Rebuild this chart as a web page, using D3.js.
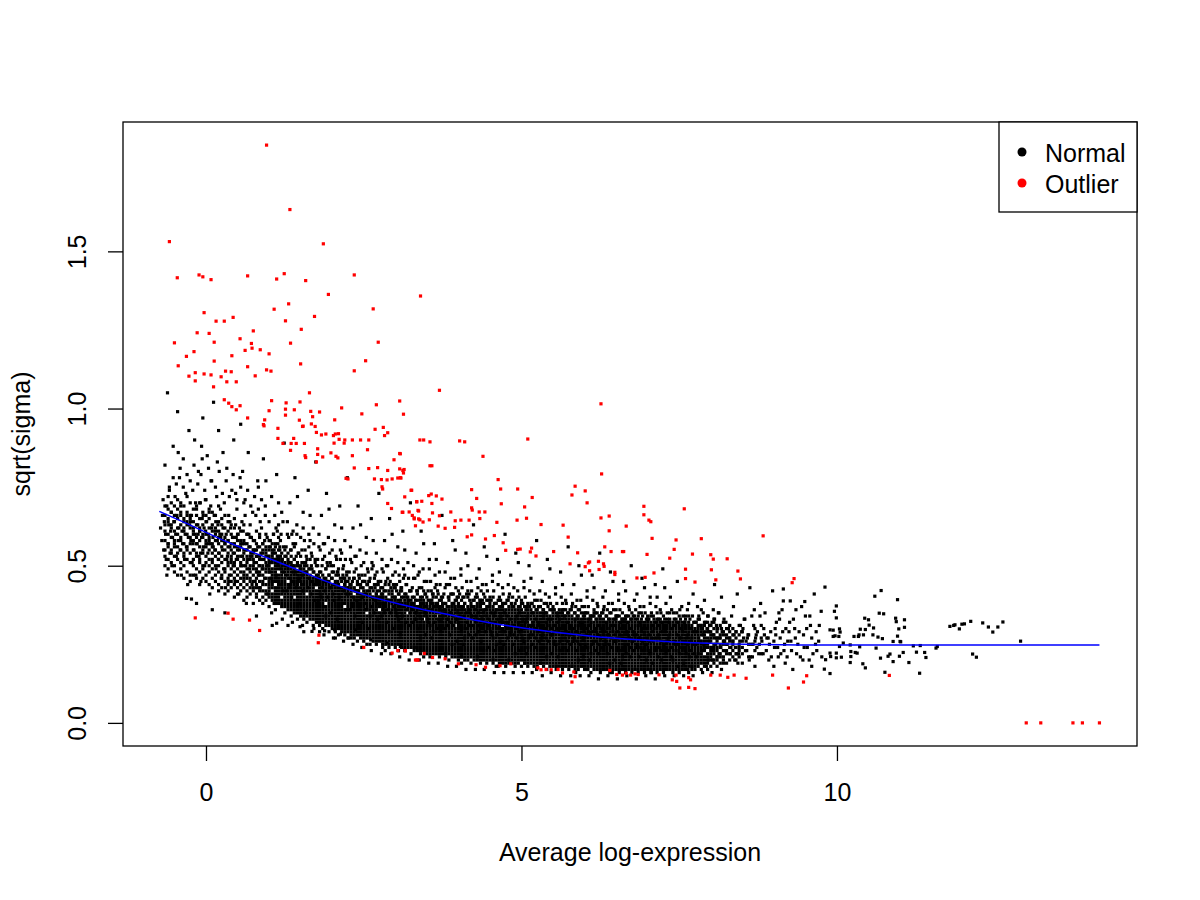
<!DOCTYPE html>
<html>
<head>
<meta charset="utf-8">
<script src="https://cdn.jsdelivr.net/npm/d3@7"></script>
<style>
  body { margin: 0; background: #fff; }
  text { font-family: "Liberation Sans", Arial, sans-serif; }
</style>
</head>
<body>
<div id="plot"></div>
<script>

// Variance trend plot (sqrt(sigma) vs average log-expression)

const width = 1200;
const height = 900;
const margin = {left: 123, right: 63, top: 122, bottom: 154};

// tick values and labels
const xTicks = [0, 5, 10];
const yTicks = [0, 0.5, 1, 1.5];
const yTickLabels = ["0.0", "0.5", "1.0", "1.5"];

// legend entries
const legendLabels = ["Normal", "Outlier"];
const legendColors = ["#000000", "#ff0000"];

// fitted trend
const trendLine = [
  [-0.74,.673],[-0.3,.634],[0.25,.583],[0.65,.55],[1.05,.519],[1.45,.487],[1.84,.455],
  [2.25,.425],[2.63,.40],[3.06,.378],[3.45,.36],[3.86,.344],[4.25,.327],[4.65,.313],
  [5.05,.301],[5.44,.291],[5.85,.281],[6.24,.273],[6.65,.267],[7.03,.262],[7.43,.257],
  [7.83,.254],[8.3,.251],[8.8,.249],[9.41,.248],[10.5,.248],[12,.248],[14.16,.248]
];

// normal genes in the crowded middle of the cloud: [AveExpr, sqrt(sigma) values...]
const coreCols = [
  [-.65,.5,.53,.55,.58,.61,.63,.66,.69],
  [-.6,.49,.52,.56,.57,.6,.64,.65,.68,.72],
  [-.55,.51,.54,.55,.59,.62,.63,.67,.7],
  [-.5,.48,.5,.53,.57,.58,.61,.64,.66,.69],
  [-.45,.47,.52,.54,.56,.6,.62,.65,.68,.71],
  [-.4,.49,.51,.55,.58,.59,.63,.66,.67,.7],
  [-.35,.46,.5,.53,.54,.57,.61,.62,.65,.69],
  [-.3,.48,.52,.55,.56,.6,.63,.64,.67,.72],
  [-.25,.45,.47,.51,.54,.57,.59,.62,.65,.66,.7],
  [-.2,.47,.5,.52,.55,.58,.6,.61,.64,.68],
  [-.15,.46,.49,.53,.54,.57,.59,.63,.66,.69],
  [-.1,.44,.48,.51,.52,.56,.58,.61,.62,.65,.7],
  [-.05,.46,.49,.5,.54,.55,.59,.6,.63,.67],
  [0,.45,.47,.51,.53,.56,.57,.6,.64,.66,.71],
  [.05,.44,.48,.5,.52,.55,.58,.59,.62,.65,.68],
  [.1,.43,.46,.49,.51,.54,.56,.57,.61,.63,.67],
  [.15,.45,.47,.5,.53,.55,.58,.6,.62,.66],
  [.2,.42,.44,.48,.5,.52,.54,.57,.59,.61,.64,.69],
  [.25,.43,.46,.47,.51,.53,.56,.58,.6,.63,.65],
  [.3,.41,.45,.48,.49,.52,.55,.57,.59,.62,.66],
  [.35,.42,.44,.46,.5,.51,.54,.56,.58,.61,.64],
  [.4,.43,.45,.47,.49,.52,.53,.55,.57,.6,.63],
  [.45,.4,.44,.46,.48,.5,.51,.54,.56,.59,.62,.65],
  [.5,.41,.43,.45,.47,.49,.52,.53,.55,.58,.6],
  [.55,.42,.44,.46,.48,.5,.51,.53,.56,.57,.61],
  [.6,.39,.43,.45,.46,.48,.5,.52,.54,.55,.58,.63],
  [.65,.4,.42,.44,.46,.47,.49,.51,.53,.55,.57,.6],
  [.7,.41,.43,.45,.46,.48,.5,.52,.53,.56,.59],
  [.75,.38,.42,.43,.45,.47,.49,.5,.52,.54,.55,.58],
  [.8,.4,.41,.43,.44,.46,.48,.49,.51,.53,.55,.57,.61],
  [.85,.39,.42,.43,.45,.47,.48,.5,.52,.53,.56,.59],
  [.9,.38,.4,.42,.44,.45,.47,.49,.5,.52,.54,.55,.57],
  [.95,.39,.41,.42,.44,.46,.48,.49,.51,.53,.54,.56,.6],
  [1,.37,.4,.41,.42,.43,.44,.45,.46,.48,.49,.5,.51,.52,.53,.55,.56,.58],
  [1.05,.39,.4,.41,.43,.44,.45,.46,.47,.48,.49,.51,.52,.53,.54,.55,.57],
  [1.1,.36,.38,.39,.4,.41,.42,.43,.45,.46,.47,.48,.49,.5,.51,.52,.54,.56],
  [1.15,.38,.39,.4,.41,.42,.43,.44,.45,.46,.47,.49,.5,.51,.52,.53,.55,.59],
  [1.2,.37,.38,.39,.41,.42,.43,.44,.45,.46,.47,.48,.49,.5,.51,.52,.54],
  [1.25,.35,.37,.38,.39,.4,.41,.42,.43,.44,.45,.46,.48,.49,.5,.51,.53,.55],
  [1.3,.36,.37,.38,.39,.4,.41,.42,.43,.44,.46,.47,.48,.49,.5,.51,.52,.54],
  [1.35,.34,.36,.37,.38,.39,.4,.41,.42,.43,.44,.45,.46,.47,.48,.49,.5,.51,.53],
  [1.4,.35,.36,.37,.38,.39,.41,.42,.43,.44,.45,.46,.47,.48,.49,.5,.52,.56],
  [1.45,.33,.35,.36,.37,.38,.39,.4,.41,.42,.43,.44,.45,.46,.47,.48,.5,.51],
  [1.5,.34,.35,.36,.37,.38,.39,.4,.41,.42,.43,.45,.46,.47,.48,.49,.5,.53],
  [1.55,.33,.34,.35,.36,.37,.38,.39,.4,.41,.42,.43,.44,.45,.46,.47,.48,.49,.51],
  [1.6,.32,.34,.35,.36,.37,.38,.39,.4,.42,.43,.44,.45,.46,.47,.48,.5],
  [1.65,.33,.34,.35,.36,.37,.38,.39,.4,.41,.42,.43,.44,.45,.46,.47,.49,.52],
  [1.7,.31,.33,.34,.35,.36,.37,.38,.39,.4,.41,.42,.43,.44,.45,.46,.48],
  [1.75,.32,.33,.34,.35,.36,.37,.38,.39,.4,.41,.42,.44,.45,.46,.47,.5],
  [1.8,.31,.32,.33,.34,.35,.36,.37,.38,.39,.4,.41,.42,.43,.44,.45,.46,.48],
  [1.85,.3,.32,.33,.34,.35,.36,.37,.38,.39,.4,.41,.42,.43,.44,.45,.47],
  [1.9,.31,.32,.33,.34,.35,.36,.37,.39,.4,.41,.42,.43,.44,.45,.46,.49],
  [1.95,.29,.31,.32,.33,.34,.35,.36,.37,.38,.39,.4,.41,.42,.43,.44,.45,.47],
  [2,.3,.31,.32,.33,.34,.35,.36,.37,.38,.39,.4,.41,.42,.43,.44,.46,.48],
  [2.05,.29,.3,.31,.32,.33,.34,.35,.36,.37,.38,.4,.41,.42,.43,.44,.45],
  [2.1,.28,.3,.31,.32,.33,.34,.35,.36,.37,.38,.39,.4,.41,.42,.43,.44,.47],
  [2.15,.29,.3,.31,.32,.33,.34,.35,.36,.37,.38,.39,.4,.41,.42,.43,.45],
  [2.2,.28,.29,.3,.31,.32,.33,.34,.35,.36,.38,.39,.4,.41,.42,.43,.44,.46],
  [2.25,.27,.29,.3,.31,.32,.33,.34,.35,.36,.37,.38,.39,.4,.41,.42,.43,.45],
  [2.3,.28,.29,.3,.31,.32,.33,.34,.35,.36,.37,.38,.39,.4,.41,.42,.44],
  [2.35,.27,.28,.29,.3,.31,.32,.33,.34,.35,.36,.37,.38,.39,.4,.42,.43,.46],
  [2.4,.26,.28,.29,.3,.31,.32,.33,.34,.35,.36,.37,.38,.39,.4,.41,.42,.44],
  [2.45,.27,.28,.29,.3,.31,.32,.33,.34,.35,.36,.37,.38,.39,.4,.41,.43],
  [2.5,.26,.27,.28,.29,.3,.31,.32,.33,.34,.35,.36,.37,.38,.39,.4,.41,.42,.45],
  [2.55,.27,.28,.29,.3,.31,.32,.33,.34,.36,.37,.38,.39,.4,.41,.42,.44],
  [2.6,.25,.27,.28,.29,.3,.31,.32,.33,.34,.35,.36,.37,.38,.39,.4,.41,.43],
  [2.65,.26,.27,.28,.29,.3,.31,.32,.33,.34,.35,.36,.37,.38,.39,.4,.42],
  [2.7,.25,.26,.27,.28,.29,.3,.31,.32,.33,.34,.35,.36,.37,.38,.39,.4,.41,.44],
  [2.75,.26,.27,.28,.29,.3,.31,.32,.33,.34,.35,.37,.38,.39,.4,.42],
  [2.8,.24,.26,.27,.28,.29,.3,.31,.32,.33,.34,.35,.36,.37,.38,.39,.4,.41,.43],
  [2.85,.25,.26,.27,.28,.29,.3,.31,.32,.33,.34,.35,.36,.37,.38,.39,.4,.42],
  [2.9,.24,.25,.26,.27,.28,.29,.3,.31,.32,.33,.34,.35,.36,.37,.38,.39,.41,.44],
  [2.95,.25,.26,.27,.28,.29,.3,.31,.32,.33,.34,.35,.36,.38,.39,.4,.42],
  [3,.24,.25,.26,.27,.28,.29,.3,.31,.32,.33,.34,.35,.36,.37,.38,.39,.4,.43],
  [3.05,.23,.25,.26,.27,.28,.29,.3,.31,.32,.33,.34,.35,.36,.37,.38,.39,.41],
  [3.1,.24,.25,.26,.27,.28,.29,.3,.31,.32,.33,.34,.35,.36,.37,.38,.4,.42],
  [3.15,.23,.24,.25,.26,.27,.28,.29,.3,.31,.32,.33,.34,.35,.36,.37,.38,.39,.41],
  [3.2,.24,.25,.26,.27,.28,.29,.3,.31,.32,.33,.34,.36,.37,.38,.39,.4],
  [3.25,.22,.24,.25,.26,.27,.28,.29,.3,.31,.32,.33,.34,.35,.36,.37,.38,.39,.42],
  [3.3,.23,.24,.25,.26,.27,.28,.29,.3,.31,.32,.33,.34,.35,.36,.37,.38,.4],
  [3.35,.23,.24,.25,.26,.27,.28,.29,.3,.31,.32,.33,.34,.35,.36,.37,.39,.41],
  [3.4,.22,.23,.24,.25,.26,.27,.28,.29,.3,.31,.32,.33,.34,.35,.36,.37,.38,.4],
  [3.45,.23,.24,.25,.26,.27,.28,.29,.3,.31,.32,.34,.35,.36,.37,.38,.39,.42],
  [3.5,.22,.23,.24,.25,.26,.27,.28,.29,.3,.31,.32,.33,.34,.35,.36,.37,.38,.4],
  [3.55,.21,.23,.24,.25,.26,.27,.28,.29,.3,.31,.32,.33,.34,.35,.36,.37,.39],
  [3.6,.22,.23,.24,.25,.26,.27,.28,.29,.3,.31,.32,.33,.34,.35,.36,.37,.38,.41],
  [3.65,.22,.23,.24,.25,.26,.27,.28,.29,.3,.31,.32,.33,.35,.36,.37,.38,.4],
  [3.7,.21,.22,.23,.24,.25,.26,.27,.28,.29,.3,.31,.32,.33,.34,.35,.36,.37,.39],
  [3.75,.22,.23,.24,.25,.26,.27,.28,.29,.3,.31,.32,.33,.34,.35,.36,.37,.38,.4],
  [3.8,.21,.22,.23,.24,.25,.26,.27,.28,.29,.3,.31,.32,.33,.34,.35,.36,.38],
  [3.85,.2,.22,.23,.24,.25,.26,.27,.28,.29,.3,.31,.32,.33,.34,.35,.36,.37,.39],
  [3.9,.21,.22,.23,.24,.25,.26,.27,.28,.29,.3,.31,.32,.33,.34,.35,.36,.37,.38,.41],
  [3.95,.21,.22,.23,.24,.25,.26,.27,.28,.29,.3,.32,.33,.34,.35,.36,.37,.39],
  [4,.2,.21,.22,.23,.24,.25,.26,.27,.28,.29,.3,.31,.32,.33,.34,.35,.36,.37,.38,.4],
  [4.05,.21,.22,.23,.24,.25,.26,.27,.28,.29,.3,.31,.32,.33,.34,.35,.36,.37,.39],
  [4.1,.2,.21,.22,.23,.24,.25,.26,.27,.28,.29,.3,.31,.32,.33,.34,.35,.36,.38],
  [4.15,.2,.21,.22,.23,.24,.25,.26,.27,.28,.29,.3,.31,.32,.33,.34,.35,.36,.37,.4],
  [4.2,.19,.21,.22,.23,.24,.25,.26,.27,.28,.29,.3,.31,.32,.33,.34,.35,.36,.37,.38],
  [4.25,.2,.21,.22,.23,.24,.25,.26,.27,.28,.29,.3,.31,.33,.34,.35,.36,.37,.39],
  [4.3,.2,.21,.22,.23,.24,.25,.26,.27,.28,.29,.3,.31,.32,.33,.34,.35,.36,.37,.38,.4],
  [4.35,.19,.2,.21,.22,.23,.24,.25,.26,.27,.28,.29,.3,.31,.32,.33,.34,.35,.36,.37,.39],
  [4.4,.2,.21,.22,.23,.24,.25,.26,.27,.28,.29,.3,.31,.32,.33,.34,.35,.36,.38,.41],
  [4.45,.19,.2,.21,.22,.23,.24,.25,.26,.27,.28,.29,.3,.31,.32,.33,.34,.35,.36,.37,.39],
  [4.5,.2,.21,.22,.23,.24,.25,.26,.27,.28,.29,.3,.31,.32,.33,.34,.35,.36,.37,.38],
  [4.55,.19,.2,.21,.22,.23,.24,.25,.26,.27,.28,.29,.3,.31,.32,.33,.34,.35,.36,.37,.4],
  [4.6,.18,.2,.21,.22,.23,.24,.25,.26,.27,.28,.29,.3,.31,.32,.33,.34,.35,.36,.38],
  [4.65,.19,.2,.21,.22,.23,.24,.25,.26,.27,.28,.29,.3,.31,.32,.33,.34,.35,.36,.37,.39],
  [4.7,.19,.2,.21,.22,.23,.24,.25,.26,.27,.28,.29,.3,.32,.33,.34,.35,.36,.37,.38],
  [4.75,.18,.19,.2,.21,.22,.23,.24,.25,.26,.27,.28,.29,.3,.31,.32,.33,.34,.35,.36,.38],
  [4.8,.19,.2,.21,.22,.23,.24,.25,.26,.27,.28,.29,.3,.31,.32,.33,.34,.35,.36,.37,.4],
  [4.85,.19,.2,.21,.22,.23,.24,.25,.26,.27,.28,.29,.3,.31,.32,.33,.34,.35,.37],
  [4.9,.18,.19,.2,.21,.22,.23,.24,.25,.26,.27,.28,.29,.3,.31,.32,.33,.34,.35,.36,.38],
  [4.95,.19,.2,.21,.22,.23,.24,.25,.26,.27,.28,.29,.3,.31,.32,.33,.34,.35,.36,.37],
  [5,.18,.2,.21,.22,.23,.24,.25,.26,.27,.28,.29,.3,.31,.32,.33,.34,.35,.36,.39],
  [5.05,.19,.2,.21,.22,.23,.24,.25,.26,.27,.28,.29,.3,.31,.32,.33,.34,.35,.37],
  [5.1,.18,.19,.2,.21,.22,.23,.24,.25,.26,.27,.28,.29,.3,.31,.32,.33,.34,.35,.36,.38],
  [5.15,.19,.2,.21,.22,.23,.24,.25,.26,.27,.28,.29,.3,.31,.33,.34,.35,.36],
  [5.2,.18,.19,.2,.21,.22,.23,.24,.25,.26,.27,.28,.29,.3,.31,.32,.33,.34,.35,.37],
  [5.25,.18,.19,.2,.21,.22,.23,.24,.25,.26,.27,.28,.29,.3,.31,.32,.33,.34,.35,.36,.39],
  [5.3,.19,.2,.21,.22,.23,.24,.25,.26,.27,.28,.29,.3,.31,.32,.33,.34,.35,.37],
  [5.35,.18,.19,.2,.21,.22,.23,.24,.25,.26,.27,.28,.29,.3,.31,.32,.33,.34,.35,.36],
  [5.4,.17,.19,.2,.21,.22,.23,.24,.25,.26,.27,.28,.29,.3,.31,.32,.33,.34,.35,.38],
  [5.45,.18,.19,.2,.21,.22,.23,.24,.25,.26,.27,.28,.29,.3,.31,.32,.33,.34,.36],
  [5.5,.18,.19,.2,.21,.22,.23,.24,.25,.26,.27,.28,.29,.3,.31,.32,.33,.34,.35,.37],
  [5.55,.17,.18,.19,.2,.21,.22,.23,.24,.25,.26,.27,.28,.29,.3,.31,.32,.33,.34,.35],
  [5.6,.18,.19,.2,.21,.22,.23,.24,.25,.26,.27,.28,.29,.3,.31,.32,.33,.34,.36],
  [5.65,.17,.18,.19,.2,.21,.22,.23,.24,.25,.26,.27,.28,.29,.3,.31,.32,.33,.34,.35,.38],
  [5.7,.18,.19,.2,.21,.22,.23,.24,.25,.26,.27,.28,.29,.3,.31,.32,.33,.34,.36],
  [5.75,.17,.18,.19,.2,.21,.22,.23,.24,.25,.26,.27,.28,.29,.3,.31,.32,.33,.34,.35],
  [5.8,.18,.19,.2,.21,.22,.23,.24,.25,.26,.27,.28,.29,.3,.31,.32,.33,.34,.37],
  [5.85,.17,.18,.19,.2,.21,.22,.23,.24,.25,.26,.27,.28,.29,.3,.31,.32,.33,.35],
  [5.9,.17,.18,.19,.2,.21,.22,.23,.24,.25,.26,.27,.28,.29,.3,.31,.32,.33,.34,.36],
  [5.95,.18,.19,.2,.21,.22,.23,.24,.25,.26,.27,.28,.29,.3,.31,.32,.33,.35],
  [6,.17,.18,.19,.2,.21,.22,.23,.24,.25,.26,.27,.28,.29,.3,.31,.32,.33,.34,.37],
  [6.05,.17,.18,.19,.2,.21,.22,.23,.24,.25,.26,.27,.28,.29,.3,.31,.32,.33,.35],
  [6.1,.16,.18,.19,.2,.21,.22,.23,.24,.25,.26,.27,.28,.29,.3,.31,.32,.33,.34],
  [6.15,.17,.18,.19,.2,.21,.22,.23,.24,.25,.26,.27,.28,.29,.3,.31,.32,.34,.36],
  [6.2,.17,.18,.19,.2,.21,.22,.23,.24,.25,.26,.27,.28,.29,.3,.31,.32,.33,.35],
  [6.25,.16,.17,.18,.19,.2,.21,.22,.23,.24,.25,.26,.27,.28,.29,.3,.31,.32,.33,.34],
  [6.3,.17,.18,.19,.2,.21,.22,.23,.24,.25,.26,.27,.28,.29,.3,.31,.32,.33,.36],
  [6.35,.17,.18,.19,.2,.21,.22,.23,.24,.25,.26,.27,.28,.29,.3,.31,.32,.34],
  [6.4,.16,.17,.18,.19,.2,.21,.22,.23,.24,.25,.26,.27,.28,.29,.3,.31,.32,.33,.35],
  [6.45,.17,.18,.19,.2,.21,.22,.23,.24,.25,.26,.27,.28,.29,.3,.31,.32,.33],
  [6.5,.17,.18,.19,.2,.21,.22,.23,.24,.25,.26,.27,.28,.29,.3,.31,.32,.33,.34,.36],
  [6.55,.16,.17,.18,.19,.2,.21,.22,.23,.24,.25,.26,.27,.28,.29,.3,.31,.32,.34],
  [6.6,.17,.18,.19,.2,.21,.22,.23,.24,.25,.26,.27,.28,.29,.3,.31,.32,.33,.35],
  [6.65,.16,.17,.18,.19,.2,.21,.22,.23,.24,.25,.26,.27,.28,.29,.3,.31,.32,.33],
  [6.7,.17,.18,.19,.2,.21,.22,.23,.24,.25,.26,.27,.28,.29,.3,.31,.32,.34],
  [6.75,.16,.17,.18,.19,.2,.21,.22,.23,.24,.25,.26,.27,.28,.29,.3,.31,.32,.33,.35],
  [6.8,.17,.18,.19,.2,.21,.22,.23,.24,.25,.26,.27,.28,.29,.3,.31,.32,.33],
  [6.85,.16,.17,.18,.19,.2,.21,.22,.23,.24,.25,.26,.27,.28,.29,.3,.31,.32,.34],
  [6.9,.17,.18,.19,.2,.21,.22,.23,.24,.25,.26,.27,.28,.29,.3,.31,.32,.33,.35],
  [6.95,.16,.17,.18,.19,.2,.21,.22,.23,.24,.25,.26,.27,.28,.29,.3,.31,.32],
  [7,.17,.18,.19,.2,.21,.22,.23,.24,.25,.26,.27,.28,.29,.3,.31,.32,.33,.34],
  [7.05,.16,.17,.18,.19,.2,.21,.22,.23,.24,.25,.26,.27,.28,.29,.3,.31,.32,.34],
  [7.1,.17,.18,.19,.2,.21,.22,.23,.24,.25,.26,.27,.28,.29,.3,.31,.32,.33],
  [7.15,.16,.17,.18,.19,.2,.21,.22,.23,.24,.25,.26,.27,.28,.29,.3,.31,.32,.35],
  [7.2,.17,.18,.19,.2,.21,.22,.23,.24,.25,.26,.27,.28,.29,.3,.31,.32,.33],
  [7.25,.16,.17,.18,.19,.2,.21,.22,.23,.24,.25,.26,.27,.28,.29,.3,.31,.32,.34],
  [7.3,.17,.18,.19,.2,.21,.22,.23,.24,.25,.26,.27,.28,.29,.3,.31,.32],
  [7.35,.17,.18,.19,.2,.21,.22,.23,.24,.25,.26,.27,.28,.29,.3,.31,.32,.33,.35],
  [7.4,.16,.17,.18,.19,.2,.21,.22,.23,.24,.25,.26,.27,.28,.29,.3,.31,.32],
  [7.45,.17,.18,.19,.2,.21,.22,.23,.24,.25,.26,.27,.28,.29,.3,.31,.33],
  [7.5,.16,.17,.18,.19,.2,.21,.22,.23,.24,.25,.26,.27,.28,.29,.3,.31,.32,.34],
  [7.55,.17,.18,.19,.2,.21,.22,.23,.24,.25,.26,.27,.28,.29,.3,.31,.32],
  [7.6,.17,.18,.19,.2,.21,.22,.23,.24,.25,.26,.27,.28,.29,.3,.31,.33],
  [7.65,.16,.18,.19,.2,.21,.22,.23,.24,.25,.26,.27,.28,.29,.3,.31,.32,.34],
  [7.7,.17,.18,.19,.2,.21,.22,.23,.24,.25,.26,.27,.28,.29,.3,.31],
  [7.75,.17,.18,.19,.2,.21,.22,.23,.24,.25,.26,.27,.28,.29,.3,.32],
  [7.8,.18,.19,.2,.21,.22,.23,.24,.25,.26,.27,.28,.29,.3,.31,.33],
  [7.85,.17,.19,.2,.21,.22,.23,.24,.25,.26,.28,.29,.3,.31],
  [7.9,.18,.19,.2,.21,.23,.24,.25,.26,.27,.28,.29,.31,.32],
  [7.95,.17,.19,.2,.21,.22,.24,.25,.26,.27,.29,.3,.32],
  [8,.18,.2,.21,.22,.23,.24,.26,.27,.28,.29,.31],
  [8.05,.19,.2,.22,.23,.24,.25,.27,.28,.3,.32],
  [8.1,.18,.2,.21,.23,.24,.26,.27,.29,.3],
  [8.15,.19,.21,.22,.24,.25,.27,.28,.31],
  [8.2,.2,.21,.23,.25,.26,.28,.29,.32],
  [8.25,.19,.22,.23,.25,.27,.28,.3],
  [8.3,.2,.22,.24,.26,.27,.29,.31],
  [8.35,.21,.23,.25,.26,.28,.3],
  [8.4,.2,.22,.24,.27,.29],
  [8.45,.21,.23,.25,.28,.31],
  [8.5,.22,.24,.26,.29],
  [8.6,.21,.25,.28],
  [8.7,.23,.26,.3],
  [8.8,.22,.27]
];

// normal genes away from the crowded middle: [AveExpr, sqrt(sigma)]
const normalPts = [
  [-.72,.62],[-.7,.58],[-.69,.66],[-.68,.71],[-.67,.55],[-.66,.64],[-.65,.82],[-.64,.6],[-.63,.52],[-.62,.69],[-.61,1.05],[-.6,.57],[-.59,.63],[-.58,.75],[-.57,.54],[-.56,.61],[-.55,.67],[-.54,.5],[-.53,.59],[-.52,.88],[-.51,.64],[-.5,.56],[-.49,.72],[-.48,.6],[-.47,.53],[-.46,.66],[-.45,.99],[-.44,.58],[-.43,.62],[-.42,.78],[-.41,.55],[-.4,.69],[-.39,.47],[-.38,.61],[-.37,.57],[-.36,.84],[-.35,.64],[-.34,.52],[-.33,.6],[-.32,.73],[-.31,.56],[-.3,.66],[-.29,.44],[-.28,.59],[-.27,.93],[-.26,.63],[-.31,.396],[-.23,.394],[-.62,.47],
  [-.24,.58],[-.23,.66],[-.22,.51],[-.21,.74],[-.2,.62],[-.19,.55],[-.18,.9],[-.17,.6],[-.16,.47],[-.15,.68],[-.14,.57],[-.13,.63],[-.12,.8],[-.11,.53],[-.1,.61],[-.09,.7],[-.08,.45],[-.07,.59],[-.06,.65],[-.05,.97],[-.04,.56],[-.03,.62],[-.02,.5],[-.01,.71],[0,.58],[.01,.64],[.02,.85],[.03,.54],[.04,.6],[.05,.67],[.06,.41],[.07,.57],[.08,.77],[.09,.62],[.1,.52],[.11,.59],[.12,1.02],[.13,.66],[.14,.55],[.15,.61],[.16,.49],[.17,.72],[.18,.58],[.19,.63],[.2,.93],[.21,.54],[.22,.6],[.23,.68],[.24,.46],
  [-.245,.64],[-.205,.57],[-.165,.7],[-.125,.6],[-.085,.54],[-.045,.66],[-.005,.61],[.035,.57],[.075,.69],[.115,.56],[.155,.64],[.195,.52],[.235,.59],[-.15,.38],[.1,.36],[.18,.83],[-.07,.88],
  [-.58,.74],[-.52,.78],[-.47,.76],[-.41,.81],[-.36,.75],[-.3,.79],[-.25,.77],[-.19,.82],[-.13,.76],[-.08,.79],[-.02,.74],[.04,.81],[.09,.77],[.15,.75],[.21,.8],[.26,.73],[.32,.77],[.37,.72],[.43,.79],[.49,.71],[.55,.75],[.6,.7],[.66,.74],[.71,.69],[.77,.72],[.83,.68],[.88,.71],[.94,.66],[-.44,.86],[-.06,.84],[.27,.86],[.58,.8],[.82,.77],
  [.26,.55],[.27,.62],[.28,.49],[.29,.7],[.3,.57],[.31,.43],[.32,.6],[.33,.81],[.34,.53],[.35,.58],[.36,.66],[.37,.47],[.38,.56],[.39,.62],[.4,.51],[.41,.74],[.42,.59],[.43,.54],[.44,.9],[.45,.57],[.46,.45],[.47,.63],[.48,.52],[.49,.68],[.5,.56],[.51,.6],[.52,.41],[.53,.55],[.54,.78],[.55,.58],[.56,.5],[.57,.64],[.58,.53],[.59,.61],[.6,.47],[.61,.57],[.62,.71],[.63,.55],[.64,.38],[.65,.6],[.66,.52],[.67,.86],[.68,.56],[.69,.49],[.7,.63],[.71,.54],[.72,.59],[.73,.44],[.74,.67],[.75,.55],
  [.28,.58],[.33,.52],[.38,.64],[.43,.5],[.48,.59],[.53,.62],[.58,.57],[.63,.5],[.68,.6],[.73,.53],[.3,.35],[.55,.95],[.47,.73],[.62,.66],[.36,.45],
  [.76,.51],[.77,.58],[.78,.45],[.79,.66],[.8,.53],[.81,.48],[.82,.56],[.83,.75],[.84,.5],[.85,.6],[.86,.43],[.87,.54],[.88,.62],[.89,.49],[.9,.57],[.91,.84],[.92,.52],[.93,.46],[.94,.69],[.95,.55],[.96,.5],[.97,.59],[.98,.41],[.99,.53],[1,.64],[1.01,.48],[1.02,.56],[1.03,.51],[1.04,.72],[1.05,.45],[1.06,.54],[1.07,.6],[1.08,.38],[1.09,.52],[1.1,.57],[1.11,.47],[1.12,.79],[1.13,.53],[1.14,.5],[1.15,.63],[1.16,.44],[1.17,.55],[1.18,.58],[1.19,.49],[1.2,.67],[1.21,.52],[1.22,.42],[1.23,.56],[1.24,.89],[1.25,.5],
  [.78,.55],[.83,.47],[.88,.52],[.93,.58],[.98,.5],[1.03,.46],[1.08,.55],[1.13,.61],[1.18,.53],[1.23,.48],[.8,.34],[1.05,.31],[.95,.77],[1.15,.7],[.86,.64],[1.12,.317],
  [1.26,.47],[1.27,.53],[1.28,.42],[1.29,.6],[1.3,.49],[1.31,.44],[1.32,.51],[1.33,.7],[1.34,.46],[1.35,.55],[1.36,.4],[1.37,.5],[1.38,.57],[1.39,.45],[1.4,.52],[1.41,.78],[1.42,.48],[1.43,.43],[1.44,.63],[1.45,.5],[1.46,.46],[1.47,.54],[1.48,.38],[1.49,.49],[1.5,.59],[1.51,.44],[1.52,.51],[1.53,.47],[1.54,.67],[1.55,.42],[1.56,.5],[1.57,.55],[1.58,.35],[1.59,.48],[1.6,.52],[1.61,.43],[1.62,.74],[1.63,.49],[1.64,.46],[1.65,.58],[1.66,.41],[1.67,.5],[1.68,.53],[1.69,.45],[1.7,.62],[1.71,.48],[1.72,.39],[1.73,.51],[1.74,.83],[1.75,.46],
  [1.28,.5],[1.33,.43],[1.38,.48],[1.43,.53],[1.48,.46],[1.53,.42],[1.58,.51],[1.63,.56],[1.68,.49],[1.73,.44],[1.3,.31],[1.55,.29],[1.45,.72],[1.65,.66],[1.36,.6],[1.49,.306],[1.68,.291],
  [1.76,.44],[1.77,.5],[1.78,.39],[1.79,.56],[1.8,.46],[1.81,.41],[1.82,.48],[1.83,.66],[1.84,.43],[1.85,.52],[1.86,.37],[1.87,.46],[1.88,.53],[1.89,.42],[1.9,.49],[1.91,.73],[1.92,.45],[1.93,.4],[1.94,.59],[1.95,.47],[1.96,.43],[1.97,.51],[1.98,.35],[1.99,.46],[2,.55],[2.01,.41],[2.02,.48],[2.03,.44],[2.04,.63],[2.05,.39],[2.06,.47],[2.07,.52],[2.08,.33],[2.09,.45],[2.1,.49],[2.11,.4],[2.12,.69],[2.13,.46],[2.14,.43],[2.15,.54],[2.16,.38],[2.17,.47],[2.18,.5],[2.19,.42],[2.2,.58],[2.21,.45],[2.22,.36],[2.23,.48],[2.24,.78],[2.25,.43],
  [1.78,.47],[1.83,.4],[1.88,.45],[1.93,.5],[1.98,.43],[2.03,.39],[2.08,.48],[2.13,.52],[2.18,.46],[2.23,.41],[1.8,.29],[2.05,.27],[1.95,.68],[2.15,.62],[1.86,.57],[2.1,.37],[1.9,.34],[2.2,.44],[1.88,.293],[2.04,.296],[2.13,.282],
  [2.26,.41],[2.27,.46],[2.28,.36],[2.29,.52],[2.3,.43],[2.31,.38],[2.32,.45],[2.33,.62],[2.34,.4],[2.35,.48],[2.36,.34],[2.37,.42],[2.38,.49],[2.39,.39],[2.4,.45],[2.41,.69],[2.42,.42],[2.43,.37],[2.44,.55],[2.45,.44],[2.46,.4],[2.47,.47],[2.48,.32],[2.49,.43],[2.5,.51],[2.51,.38],[2.52,.45],[2.53,.41],[2.54,.59],[2.55,.36],[2.56,.44],[2.57,.48],[2.58,.3],[2.59,.42],[2.6,.46],[2.61,.37],[2.62,.65],[2.63,.43],[2.64,.4],[2.65,.5],[2.66,.35],[2.67,.44],[2.68,.47],[2.69,.39],[2.7,.54],[2.71,.42],[2.72,.33],[2.73,.45],[2.74,.73],[2.75,.4],
  [2.28,.44],[2.33,.37],[2.38,.42],[2.43,.46],[2.48,.4],[2.53,.36],[2.58,.45],[2.63,.49],[2.68,.43],[2.73,.38],[2.3,.27],[2.55,.25],[2.45,.63],[2.65,.58],[2.36,.53],[2.6,.34],[2.4,.31],[2.7,.41],[2.37,.296],[2.61,.264],
  [2.76,.38],[2.77,.43],[2.78,.34],[2.79,.49],[2.8,.4],[2.81,.36],[2.82,.42],[2.83,.58],[2.84,.37],[2.85,.45],[2.86,.32],[2.87,.39],[2.88,.46],[2.89,.36],[2.9,.42],[2.91,.65],[2.92,.39],[2.93,.35],[2.94,.52],[2.95,.41],[2.96,.37],[2.97,.44],[2.98,.3],[2.99,.4],[3,.48],[3.01,.35],[3.02,.42],[3.03,.38],[3.04,.56],[3.05,.33],[3.06,.41],[3.07,.45],[3.08,.28],[3.09,.39],[3.1,.43],[3.11,.34],[3.12,.61],[3.13,.4],[3.14,.37],[3.15,.47],[3.16,.32],[3.17,.41],[3.18,.44],[3.19,.36],[3.2,.51],[3.21,.39],[3.22,.31],[3.23,.42],[3.24,.7],[3.25,.37],
  [2.78,.41],[2.83,.35],[2.88,.39],[2.93,.43],[2.98,.37],[3.03,.34],[3.08,.42],[3.13,.46],[3.18,.4],[3.23,.35],[2.8,.25],[3.05,.23],[2.95,.6],[3.15,.55],[2.86,.5],[3.1,.31],[2.9,.29],[3.2,.38],[2.82,.38],[3,.36],[2.87,.254],[3.08,.243],
  [3.26,.36],[3.27,.4],[3.28,.32],[3.29,.46],[3.3,.37],[3.31,.33],[3.32,.39],[3.33,.54],[3.34,.35],[3.35,.42],[3.36,.3],[3.37,.37],[3.38,.43],[3.39,.34],[3.4,.39],[3.41,.61],[3.42,.36],[3.43,.33],[3.44,.49],[3.45,.38],[3.46,.35],[3.47,.41],[3.48,.28],[3.49,.37],[3.5,.45],[3.51,.33],[3.52,.39],[3.53,.36],[3.54,.52],[3.55,.31],[3.56,.38],[3.57,.42],[3.58,.27],[3.59,.36],[3.6,.4],[3.61,.32],[3.62,.57],[3.63,.37],[3.64,.34],[3.65,.44],[3.66,.3],[3.67,.38],[3.68,.41],[3.69,.33],[3.7,.48],[3.71,.36],[3.72,.29],[3.73,.39],[3.74,.66],[3.75,.35],
  [3.28,.38],[3.33,.33],[3.38,.37],[3.43,.4],[3.48,.35],[3.53,.32],[3.58,.39],[3.63,.43],[3.68,.37],[3.73,.33],[3.3,.24],[3.55,.22],[3.45,.57],[3.65,.52],[3.36,.47],[3.6,.29],[3.4,.27],[3.7,.36],[3.32,.35],[3.5,.34],
  [3.76,.34],[3.77,.38],[3.78,.3],[3.79,.43],[3.8,.35],[3.81,.31],[3.82,.37],[3.83,.51],[3.84,.33],[3.85,.4],[3.86,.28],[3.87,.35],[3.88,.41],[3.89,.32],[3.9,.37],[3.91,.58],[3.92,.34],[3.93,.31],[3.94,.46],[3.95,.36],[3.96,.33],[3.97,.39],[3.98,.26],[3.99,.35],[4,.42],[4.01,.31],[4.02,.37],[4.03,.34],[4.04,.49],[4.05,.29],[4.06,.36],[4.07,.4],[4.08,.25],[4.09,.34],[4.1,.38],[4.11,.3],[4.12,.54],[4.13,.35],[4.14,.32],[4.15,.42],[4.16,.28],[4.17,.36],[4.18,.39],[4.19,.31],[4.2,.45],[4.21,.34],[4.22,.27],[4.23,.37],[4.24,.63],[4.25,.33],
  [3.78,.36],[3.83,.31],[3.88,.35],[3.93,.38],[3.98,.33],[4.03,.3],[4.08,.37],[4.13,.41],[4.18,.35],[4.23,.31],[3.8,.22],[4.05,.21],[3.95,.55],[4.15,.5],[3.86,.44],[4.1,.27],[3.9,.25],[4.2,.34],[3.82,.33],[4,.32],
  [4.26,.32],[4.27,.36],[4.28,.28],[4.29,.41],[4.3,.33],[4.31,.29],[4.32,.35],[4.33,.49],[4.34,.31],[4.35,.38],[4.36,.26],[4.37,.33],[4.38,.39],[4.39,.3],[4.4,.35],[4.41,.56],[4.42,.32],[4.43,.29],[4.44,.44],[4.45,.34],[4.46,.31],[4.47,.37],[4.48,.24],[4.49,.33],[4.5,.4],[4.51,.29],[4.52,.35],[4.53,.32],[4.54,.47],[4.55,.27],[4.56,.34],[4.57,.38],[4.58,.23],[4.59,.32],[4.6,.36],[4.61,.28],[4.62,.52],[4.63,.33],[4.64,.3],[4.65,.4],[4.66,.26],[4.67,.34],[4.68,.37],[4.69,.29],[4.7,.43],[4.71,.32],[4.72,.25],[4.73,.35],[4.74,.6],[4.75,.31],
  [4.28,.34],[4.33,.29],[4.38,.33],[4.43,.36],[4.48,.31],[4.53,.28],[4.58,.35],[4.63,.39],[4.68,.33],[4.73,.29],[4.3,.21],[4.55,.2],[4.45,.53],[4.65,.48],[4.36,.42],[4.6,.25],[4.4,.23],[4.7,.32],[4.32,.31],[4.5,.3],
  [4.76,.3],[4.77,.34],[4.78,.27],[4.79,.39],[4.8,.31],[4.81,.28],[4.82,.33],[4.83,.47],[4.84,.29],[4.85,.36],[4.86,.25],[4.87,.31],[4.88,.37],[4.89,.28],[4.9,.33],[4.91,.54],[4.92,.3],[4.93,.27],[4.94,.42],[4.95,.32],[4.96,.29],[4.97,.35],[4.98,.23],[4.99,.31],[5,.38],[5.01,.27],[5.02,.33],[5.03,.3],[5.04,.45],[5.05,.26],[5.06,.32],[5.07,.36],[5.08,.22],[5.09,.3],[5.1,.34],[5.11,.27],[5.12,.5],[5.13,.31],[5.14,.28],[5.15,.38],[5.16,.25],[5.17,.32],[5.18,.35],[5.19,.28],[5.2,.41],[5.21,.3],[5.22,.24],[5.23,.33],[5.24,.58],[5.25,.29],
  [4.78,.32],[4.83,.28],[4.88,.31],[4.93,.34],[4.98,.29],[5.03,.26],[5.08,.33],[5.13,.37],[5.18,.31],[5.23,.27],[4.8,.2],[5.05,.19],[4.95,.51],[5.15,.46],[4.86,.4],[5.1,.24],[4.9,.22],[5.2,.3],[4.82,.3],[5,.29],
  [5.26,.29],[5.27,.32],[5.28,.26],[5.29,.37],[5.3,.3],[5.31,.27],[5.32,.31],[5.33,.45],[5.34,.28],[5.35,.34],[5.36,.24],[5.37,.3],[5.38,.35],[5.39,.27],[5.4,.32],[5.41,.52],[5.42,.29],[5.43,.26],[5.44,.4],[5.45,.31],[5.46,.28],[5.47,.33],[5.48,.22],[5.49,.3],[5.5,.36],[5.51,.26],[5.52,.31],[5.53,.29],[5.54,.43],[5.55,.25],[5.56,.3],[5.57,.34],[5.58,.21],[5.59,.29],[5.6,.33],[5.61,.26],[5.62,.48],[5.63,.3],[5.64,.27],[5.65,.36],[5.66,.24],[5.67,.31],[5.68,.34],[5.69,.27],[5.7,.39],[5.71,.29],[5.72,.23],[5.73,.32],[5.74,.56],[5.75,.28],
  [5.28,.31],[5.33,.27],[5.38,.3],[5.43,.33],[5.48,.28],[5.53,.25],[5.58,.32],[5.63,.35],[5.68,.3],[5.73,.26],[5.3,.19],[5.55,.18],[5.45,.49],[5.65,.44],[5.36,.38],[5.6,.23],[5.4,.21],[5.7,.29],[5.32,.29],[5.5,.28],
  [5.76,.28],[5.77,.31],[5.78,.25],[5.79,.36],[5.8,.29],[5.81,.26],[5.82,.3],[5.83,.44],[5.84,.27],[5.85,.33],[5.86,.23],[5.87,.29],[5.88,.34],[5.89,.26],[5.9,.31],[5.91,.5],[5.92,.28],[5.93,.25],[5.94,.39],[5.95,.3],[5.96,.27],[5.97,.32],[5.98,.21],[5.99,.29],[6,.35],[6.01,.25],[6.02,.3],[6.03,.28],[6.04,.42],[6.05,.24],[6.06,.29],[6.07,.33],[6.08,.2],[6.09,.28],[6.1,.32],[6.11,.25],[6.12,.47],[6.13,.29],[6.14,.26],[6.15,.35],[6.16,.23],[6.17,.3],[6.18,.33],[6.19,.26],[6.2,.38],[6.21,.28],[6.22,.22],[6.23,.31],[6.24,.54],[6.25,.27],
  [5.78,.3],[5.83,.26],[5.88,.29],[5.93,.32],[5.98,.27],[6.03,.24],[6.08,.31],[6.13,.34],[6.18,.29],[6.23,.25],[5.8,.18],[6.05,.17],[5.95,.47],[6.15,.43],[5.86,.37],[6.1,.22],[5.9,.2],[6.2,.28],[5.82,.28],[6,.27],
  [6.26,.27],[6.27,.3],[6.28,.24],[6.29,.35],[6.3,.28],[6.31,.25],[6.32,.29],[6.33,.42],[6.34,.26],[6.35,.32],[6.36,.22],[6.37,.28],[6.38,.33],[6.39,.25],[6.4,.3],[6.41,.48],[6.42,.27],[6.43,.24],[6.44,.38],[6.45,.29],[6.46,.26],[6.47,.31],[6.48,.2],[6.49,.28],[6.5,.34],[6.51,.24],[6.52,.29],[6.53,.27],[6.54,.41],[6.55,.23],[6.56,.28],[6.57,.32],[6.58,.19],[6.59,.27],[6.6,.31],[6.61,.24],[6.62,.45],[6.63,.28],[6.64,.25],[6.65,.34],[6.66,.22],[6.67,.29],[6.68,.32],[6.69,.25],[6.7,.37],[6.71,.27],[6.72,.21],[6.73,.3],[6.74,.5],[6.75,.26],
  [6.28,.29],[6.33,.25],[6.38,.28],[6.43,.31],[6.48,.26],[6.53,.23],[6.58,.3],[6.63,.33],[6.68,.28],[6.73,.24],[6.3,.17],[6.55,.17],[6.45,.45],[6.65,.42],[6.36,.36],[6.6,.21],[6.4,.19],[6.7,.27],[6.32,.27],[6.5,.26],
  [6.76,.26],[6.77,.29],[6.78,.23],[6.79,.34],[6.8,.27],[6.81,.24],[6.82,.28],[6.83,.41],[6.84,.25],[6.85,.31],[6.86,.21],[6.87,.27],[6.88,.32],[6.89,.24],[6.9,.29],[6.91,.46],[6.92,.26],[6.93,.23],[6.94,.37],[6.95,.28],[6.96,.25],[6.97,.3],[6.98,.2],[6.99,.27],[7,.33],[7.01,.23],[7.02,.28],[7.03,.26],[7.04,.4],[7.05,.22],[7.06,.27],[7.07,.31],[7.08,.19],[7.09,.26],[7.1,.3],[7.11,.23],[7.12,.44],[7.13,.27],[7.14,.24],[7.15,.33],[7.16,.21],[7.17,.28],[7.18,.31],[7.19,.24],[7.2,.36],[7.21,.26],[7.22,.2],[7.23,.29],[7.24,.49],[7.25,.25],
  [6.78,.28],[6.83,.24],[6.88,.27],[6.93,.3],[6.98,.25],[7.03,.22],[7.08,.29],[7.13,.32],[7.18,.27],[7.23,.23],[6.8,.17],[7.05,.17],[6.95,.43],[7.15,.4],[6.86,.35],
  [7.26,.25],[7.28,.29],[7.29,.22],[7.31,.33],[7.32,.26],[7.34,.23],[7.35,.28],[7.36,.4],[7.38,.24],[7.39,.3],[7.4,.2],[7.42,.26],[7.43,.31],[7.45,.23],[7.46,.28],[7.47,.45],[7.49,.25],[7.5,.22],[7.51,.36],[7.53,.27],[7.54,.24],[7.55,.29],[7.57,.19],[7.58,.26],[7.59,.32],[7.61,.22],[7.62,.27],[7.63,.25],[7.65,.38],[7.66,.21],[7.67,.26],[7.69,.3],[7.7,.18],[7.71,.25],[7.73,.29],[7.74,.22],[7.27,.43],[7.33,.27],[7.37,.21],[7.41,.35],[7.44,.25],[7.48,.18],[7.52,.3],[7.56,.24],[7.6,.34],[7.64,.28],[7.68,.23],[7.72,.41],[7.3,.26],[7.5,.27],[7.7,.27],[7.45,.32],
  [7.76,.25],[7.78,.29],[7.8,.22],[7.82,.33],[7.84,.26],[7.86,.23],[7.88,.28],[7.9,.39],[7.92,.24],[7.94,.3],[7.96,.2],[7.98,.26],[8,.31],[8.02,.23],[8.04,.28],[8.06,.44],[8.08,.25],[8.1,.21],[8.12,.35],[8.14,.27],[8.16,.24],[8.18,.29],[8.2,.19],[8.22,.26],[8.24,.32],[7.77,.21],[7.81,.27],[7.85,.36],[7.89,.25],[7.93,.18],[7.97,.29],[8.01,.24],[8.05,.33],[8.09,.27],[8.13,.22],[8.17,.4],[8.21,.26],[8.23,.23],[7.87,.3],[8.03,.2],[7.95,.34],[8.11,.3],
  [8.26,.25],[8.28,.3],[8.31,.22],[8.33,.34],[8.35,.26],[8.38,.2],[8.4,.29],[8.42,.41],[8.45,.24],[8.47,.31],[8.5,.19],[8.52,.27],[8.54,.33],[8.57,.23],[8.59,.28],[8.62,.43],[8.64,.25],[8.66,.21],[8.69,.36],[8.71,.27],[8.73,.24],[8.3,.27],[8.36,.37],[8.44,.22],[8.49,.29],[8.56,.26],[8.61,.2],[8.68,.31],[8.74,.29],[8.39,.24],[8.65,.34],
  [8.77,.25],[8.8,.31],[8.83,.22],[8.86,.35],[8.89,.27],[8.92,.2],[8.95,.29],[8.98,.42],[9.01,.24],[9.04,.32],[9.07,.21],[9.1,.27],[9.13,.36],[9.16,.23],[9.19,.3],[9.22,.26],[8.85,.28],[8.93,.25],[9.02,.3],[9.09,.33],[9.18,.19],[8.79,.38],[9.24,.29],[9.15,.426],[9.15,.388],[9.26,.388],
  [9.27,.26],[9.31,.33],[9.36,.22],[9.4,.29],[9.44,.37],[9.48,.24],[9.52,.3],[9.56,.2],[9.6,.27],[9.64,.41],[9.68,.23],[9.72,.31],[9.34,.27],[9.5,.34],[9.66,.25],[9.46,.2],[9.49,.386],
  [9.81,.432],[9.75,.355],[9.96,.355],[9.99,.372],[9.99,.334],[9.89,.296],[9.94,.295],[10.04,.299],[10.05,.289],[10.03,.275],[10.1,.254],[10.04,.243],[9.94,.275],[9.97,.277],[9.89,.222],[9.99,.222],[10.07,.209],[9.99,.207],[9.89,.157],[9.8,.171],[9.82,.201],[9.9,.211],
  [10.21,.248],[10.22,.227],[10.21,.192],[10.27,.275],[10.34,.275],[10.35,.28],[10.42,.28],[10.37,.298],[10.45,.297],[10.44,.333],[10.5,.328],[10.51,.311],[10.58,.302],[10.57,.28],[10.65,.273],[10.72,.268],[10.32,.222],[10.29,.224],[10.41,.188],[10.45,.175],[10.36,.242],[10.22,.211],[10.6,.403],[10.7,.421],
  [10.67,.349],[10.74,.347],[10.93,.333],[10.94,.322],[11.07,.328],[11.07,.304],[10.98,.299],[10.96,.276],[10.89,.259],[11,.259],[11.01,.258],[10.96,.392],[10.62,.238],[10.69,.206],[10.81,.212],[10.84,.219],[10.89,.195],[10.99,.212],[11.05,.224],[11.14,.192],[11.26,.225],[11.31,.158],[11.39,.224],[11.41,.208],[11.57,.238],[11.59,.243],[10.76,.161],[11.32,.246],[11.21,.245],
  [11.79,.307],[11.85,.31],[11.87,.312],[11.98,.314],[12.02,.315],[11.94,.299],[12.12,.323],[12.31,.318],[12.4,.305],[12.47,.289],[12.55,.305],[12.63,.321],[12.91,.26],[12.15,.219],[12.21,.209]
];

// normal genes along the ragged upper and lower edge of the crowd
const edgePts = [
  [1.02,.58],[1.07,.6],[1.11,.62],[1.14,.57],[1.19,.6],[1.22,.64],[1.09,.66],[1.17,.56],
  [1.27,.56],[1.31,.59],[1.34,.55],[1.38,.61],[1.42,.57],[1.46,.54],[1.29,.64],[1.44,.6],
  [1.52,.55],[1.56,.58],[1.59,.53],[1.63,.6],[1.67,.54],[1.71,.57],[1.54,.62],[1.73,.52],
  [1.77,.52],[1.81,.55],[1.84,.5],[1.88,.57],[1.92,.51],[1.96,.54],[1.79,.6],[1.98,.5],
  [2.02,.5],[2.06,.53],[2.09,.48],[2.13,.55],[2.17,.49],[2.21,.52],[2.04,.58],[2.23,.47],
  [2.27,.48],[2.31,.51],[2.34,.46],[2.38,.53],[2.42,.47],[2.46,.5],[2.29,.56],[2.48,.45],
  [2.52,.47],[2.56,.49],[2.59,.45],[2.63,.51],[2.67,.46],[2.71,.48],[2.54,.54],[2.73,.44],
  [2.77,.45],[2.81,.48],[2.84,.44],[2.88,.5],[2.92,.45],[2.96,.47],[2.79,.52],[2.98,.43],
  [3.02,.44],[3.06,.47],[3.09,.43],[3.13,.49],[3.17,.44],[3.21,.46],[3.04,.51],[3.23,.42],
  [3.27,.43],[3.31,.46],[3.34,.42],[3.38,.48],[3.42,.43],[3.46,.45],[3.29,.5],[3.48,.41],
  [3.52,.42],[3.56,.45],[3.59,.41],[3.63,.47],[3.67,.42],[3.71,.44],[3.54,.49],[3.73,.4],
  [3.77,.41],[3.81,.44],[3.84,.4],[3.88,.46],[3.92,.41],[3.96,.43],[3.79,.48],[3.98,.4],
  [4.02,.41],[4.06,.43],[4.09,.4],[4.13,.45],[4.17,.41],[4.21,.42],[4.04,.47],[4.23,.39],
  [4.27,.4],[4.31,.43],[4.34,.39],[4.38,.44],[4.42,.4],[4.46,.42],[4.29,.46],[4.48,.39],
  [4.52,.39],[4.56,.42],[4.59,.38],[4.63,.44],[4.67,.39],[4.71,.41],[4.54,.45],[4.73,.38],
  [4.77,.39],[4.81,.41],[4.84,.38],[4.88,.43],[4.92,.39],[4.96,.4],[4.79,.44],[4.98,.37],
  [5.02,.38],[5.06,.4],[5.09,.37],[5.13,.42],[5.17,.38],[5.21,.39],[5.04,.43],[5.23,.36],
  [5.27,.37],[5.31,.39],[5.34,.36],[5.38,.41],[5.42,.37],[5.46,.38],[5.29,.42],[5.48,.36],
  [5.52,.36],[5.56,.38],[5.59,.35],[5.63,.4],[5.67,.36],[5.71,.38],[5.54,.41],[5.73,.35],
  [5.77,.36],[5.81,.38],[5.84,.35],[5.88,.39],[5.92,.36],[5.96,.37],[5.79,.41],[5.98,.34],
  [6.02,.35],[6.06,.37],[6.09,.34],[6.13,.39],[6.17,.35],[6.21,.37],[6.04,.4],[6.23,.34],
  [6.27,.35],[6.31,.37],[6.34,.34],[6.38,.38],[6.42,.35],[6.46,.36],[6.29,.4],[6.48,.33],
  [6.52,.34],[6.56,.36],[6.59,.33],[6.63,.38],[6.67,.34],[6.71,.36],[6.54,.39],[6.73,.33],
  [6.77,.34],[6.81,.36],[6.84,.33],[6.88,.37],[6.92,.34],[6.96,.35],[6.79,.39],[6.98,.33],
  [7.02,.33],[7.06,.35],[7.09,.34],[7.13,.37],[7.17,.33],[7.21,.35],[7.04,.38],[7.23,.32],
  [7.27,.33],[7.31,.35],[7.34,.32],[7.38,.36],[7.42,.33],[7.46,.35],[7.29,.38],[7.48,.32],
  [7.52,.33],[7.56,.34],[7.59,.32],[7.63,.36],[7.67,.33],[7.71,.34],[7.54,.37],[7.73,.32],
  [7.77,.32],[7.81,.34],[7.84,.31],[7.88,.35],[7.92,.32],[7.96,.34],[7.79,.37],[7.98,.31],
  [8.02,.32],[8.06,.33],[8.09,.31],[8.13,.35],[8.17,.3],[8.21,.33],[8.04,.36],
  [1.04,.35],[1.21,.33],[1.37,.32],[1.53,.31],[1.71,.3],[1.87,.28],[2.02,.27],[2.18,.26],[2.33,.25],[2.47,.24],[2.62,.23],[2.78,.22],[2.93,.22],[3.07,.21],[3.22,.2],[3.38,.2],[3.53,.19],[3.68,.19],[3.83,.18],[3.97,.18],[4.12,.17],[4.27,.17],[4.41,.17],[4.57,.16],[4.72,.16],[4.87,.16],[5.03,.16],[5.17,.16],[5.33,.15],[5.47,.16],[5.62,.15],[5.78,.15],[5.93,.15],[6.07,.15],[6.22,.14],[6.37,.15],[6.52,.14],[6.67,.15],[6.82,.14],[6.97,.15],[7.12,.14],[7.27,.15],[7.42,.15],[7.57,.15],[7.72,.15],[7.87,.16],[8.02,.16],[8.17,.17],
  [2.26,.27],[2.84,.23],[3.45,.21],[4.05,.19],[4.63,.18],[5.24,.17],[5.86,.16],[6.44,.16],[7.06,.16],[7.64,.17],
  [8.32,.24],[8.37,.28],[8.41,.22],[8.46,.26],[8.51,.3],[8.55,.23],[8.58,.27],[8.63,.21],[8.67,.25],[8.72,.28],[8.76,.22],[8.81,.26],[8.84,.3],[8.88,.23],[8.91,.27],[8.96,.21],[9,.26],[9.03,.28],[9.06,.24],[9.11,.22],[9.14,.29],[9.17,.25],[9.21,.21],[9.25,.32],[9.28,.23],[9.33,.3],[9.38,.25],[9.42,.21],[9.47,.28],[9.53,.24],[9.58,.31],[9.62,.22],[9.67,.29],[9.71,.26],[9.76,.21],[8.53,.33],[8.78,.34],[9.08,.35],[9.35,.36],[9.57,.34],[8.43,.19],[8.7,.18],[9,.18],[9.3,.17],[9.6,.18]
];

// outlier genes [AveExpr, sqrt(sigma)]
const outlierPts = [
  [.96,1.838],[1.33,1.633],[-.58,1.531],[1.86,1.524],[-.455,1.416],[-.11,1.425],[-.05,1.419],[.08,1.41],[.66,1.422],[1.12,1.412],[1.24,1.429],[1.58,1.407],[2.35,1.425],[3.4,1.358],[1.94,1.363],[1.31,1.333],[1.08,1.316],[2.65,1.317],[-.03,1.305],[1.72,1.293],[.16,1.278],[.29,1.278],[.43,1.29],[1.26,1.279],[1.51,1.252],[.75,1.247],[-.14,1.241],[.05,1.239],[.54,1.222],[-.5,1.209],[.13,1.211],[.72,1.207],[1.34,1.208],[2.73,1.211],[.62,1.185],[.73,1.192],[.86,1.187],[-.19,1.181],[1,1.174],[-.31,1.166],[.41,1.168],[.13,1.151],[1.5,1.142],[2.53,1.152],[-.44,1.136],[.66,1.133],[.96,1.123],[1.03,1.119],[2.35,1.12],[-.17,1.114],[-.03,1.11],[.08,1.107],[.31,1.119],[.4,1.117],[-.27,1.103],[.24,1.101],[.78,1.104],[-.17,1.088],[.33,1.085],[.48,1.085],[.12,1.069],[1.64,1.05],[3.07,1.024],[.29,1.028],[.36,1.017],[.41,1.006],[.54,1.009],[1.04,1.025],[1.27,1.018],[1.49,1.021],[2.7,1.012],[2.15,1.002],[.48,.996],[1,.993],[1.26,.998],[1.4,.996],[1.66,.991],[1.8,.989],[2.47,.983],[3.13,.982],[.66,.97],[1.26,.979],[1.69,.974],[.93,.964],[1.48,.963],[2.04,.964],[.91,.949],[1.67,.951],[.92,.945],[1.14,.937],[1.53,.943],[1.73,.943],[2.68,.934],[2.81,.94],[2.88,.923],[2.83,.914],[1.75,.924],[1.83,.916],[1.9,.919],[2.02,.914],[2.05,.919],[2.1,.92],[2.11,.902],[2.2,.9],[2.45,.9],[1.14,.905],[1.39,.905],[3.45,.9],
  [1.54,.944],[2.19,.89],[2.32,.9],[2.58,.9],[2.03,.89],[1.22,.889],[1.35,.889],[1.43,.889],[1.56,.889],[1.77,.872],[1.77,.854],[1.85,.846],[1.98,.859],[2.06,.848],[2.09,.843],[2.32,.85],[1.57,.85],[1.58,.844],[1.34,.867],[2.56,.869],[1.75,.83],[2.35,.811],[2.58,.809],[2.72,.812],[2.88,.803],[3.07,.808],[3.14,.806],[3.09,.779],[3.04,.779],[2.95,.776],[2.87,.773],[2.78,.774],[2.67,.776],[2.22,.778],[2.25,.776],[2.98,.837],[3.07,.857],[3.25,.74],[2.79,.751],[2.8,.744],[3.34,.704],[2.88,.698],[2.94,.682],[3.36,.676],[3.11,.67],[3.3,.652],[3.37,.649],[3.32,.627],
  [3.7,1.058],[6.26,1.015],[3.39,.9],[3.55,.894],[4.02,.897],[4.1,.894],[5.1,.903],[3.08,.856],[4.39,.848],[3.55,.818],[3.58,.818],[3.12,.803],[3.13,.795],[3.08,.78],[6.27,.792],[4.63,.774],[3.26,.74],[4.21,.742],[4.67,.744],[4.94,.744],[5.85,.753],[6.01,.738],[3.15,.719],[3.53,.723],[3.57,.728],[3.65,.722],[3.74,.712],[4.29,.714],[5.17,.717],[5.8,.725],[3.34,.703],[3.42,.705],[3.58,.698],[4.68,.697],[6.04,.7],[7.58,.681],[6.94,.689],[4.21,.684],[4.22,.677],[5.05,.687],[3.12,.67],[3.22,.671],[3.37,.674],[3.59,.668],[3.7,.659],[3.88,.671],[4.33,.671],[4.42,.671],[6.94,.662],[3.27,.66],[3.3,.649],[3.39,.646],[3.44,.639],[3.54,.646],[3.95,.643],[4.04,.645],[4.17,.645],[4.34,.65],[4.61,.638],[4.93,.645],[5.08,.651],[6.26,.652],[6.39,.658],[7.02,.645],[7.05,.64],[3.68,.626],[3.79,.619],[3.94,.622],[5.31,.631],[5.66,.629],[6.66,.626],[6.39,.611],[4.14,.592],[4.21,.598],[4.57,.596],[5.74,.591],[7.07,.587],[7.85,.586],[8.83,.595],[4.43,.585],[4.71,.573],[7.45,.582],[6.32,.56],[4.75,.549],[4.94,.552],[4.98,.553],[5.16,.556],[6.42,.545],[6.6,.545],[6.62,.545],[5.14,.544],[5.51,.545],[5.89,.541],[5.23,.531],[6.99,.536],[7.42,.552],[7.71,.537],[8,.535],[8.04,.521],[8.26,.522],[7.35,.524],[5.77,.506],[6.06,.509],[6.08,.512],[6.22,.514],[6.3,.506],[6.31,.498],[6.01,.497],[6.23,.488],[6.08,.484],[6.48,.479],[6.48,.472],[7.6,.489],[8.01,.487],[8.43,.483],[6.96,.463],[7.1,.477],[6.83,.461],[7.6,.459],[8.08,.455],[8.47,.458],[7.75,.448],[9.32,.459],[9.29,.446],
  [3.16,.229],[3.46,.221],[3.59,.208],[3.32,.2],[3.36,.2],[3.79,.204],[4,.188],[4.28,.185],[4.43,.177],[4.66,.182],[4.83,.188],[5.26,.175],[5.31,.169],[5.39,.17],[5.47,.169],[5.58,.17],[5.65,.159],[5.83,.162],[5.85,.147],[5.8,.13],[6.4,.167],[6.51,.154],[6.6,.152],[6.66,.158],[6.73,.152],[6.8,.156],[6.85,.154],[7.18,.153],[7.45,.152],[7.39,.137],[7.46,.132],[7.65,.144],[7.68,.137],[7.51,.111],[7.65,.113],[7.75,.109],[8,.152],[8.15,.152],[8.27,.145],[8.37,.152],[8.56,.142],[8.98,.152],[9.23,.111],
  [-.17,.334],[.35,.349],[.43,.33],[.69,.327],[.85,.294],[1.78,.255],[1.79,.279],[2.5,.24],[2.95,.222],[3.04,.23],[3.16,.23],[3.34,.2],
  [9.52,.15],[9.47,.13],[10.83,.151],
  [13,0],[13.23,0],[13.74,0],[13.89,0],[14.16,0]
];

// unpack the crowded columns into single points
const corePts = coreCols.flatMap(c => c.slice(1).map(y => [c[0], y]));
const allNormal = corePts.concat(normalPts, edgePts);

const svg = d3.select("#plot")
  .append("svg")
  .attr("width", width)
  .attr("height", height);

// R pads the data range by 4% on each side
const xAll = allNormal.concat(outlierPts).map(d => d[0]);
const yAll = allNormal.concat(outlierPts).map(d => d[1]);
const xPad = (d3.max(xAll) - d3.min(xAll)) * 0.04;
const yPad = (d3.max(yAll) - d3.min(yAll)) * 0.04;

const xScale = d3.scaleLinear()
  .domain([d3.min(xAll) - xPad, d3.max(xAll) + xPad])
  .range([margin.left, width - margin.right]);

const yScale = d3.scaleLinear()
  .domain([d3.min(yAll) - yPad, d3.max(yAll) + yPad])
  .range([height - margin.bottom, margin.top]);

const fontSize = 25;
const ptSize = 3.2;

// x axis
const xAxis = svg.append("g")
  .attr("transform", `translate(0,${height - margin.bottom})`)
  .call(d3.axisBottom(xScale).tickValues(xTicks).tickSize(15).tickPadding(22));
xAxis.select(".domain").remove();
xAxis.selectAll("line").attr("stroke", "#000").attr("stroke-width", 1.3);
xAxis.selectAll("text")
  .attr("font-size", fontSize)
  .attr("font-family", '"Liberation Sans", Arial, sans-serif')
  .attr("fill", "#000");

// y axis, labels turned sideways like base R
const yAxis = svg.append("g")
  .attr("transform", `translate(${margin.left},0)`)
  .call(d3.axisLeft(yScale).tickValues(yTicks).tickSize(15)
          .tickFormat((d, i) => yTickLabels[i]));
yAxis.select(".domain").remove();
yAxis.selectAll("line").attr("stroke", "#000").attr("stroke-width", 1.3);
yAxis.selectAll("text")
  .attr("x", 0)
  .attr("dy", 0)
  .attr("transform", "translate(-37,0) rotate(-90)")
  .attr("text-anchor", "middle")
  .attr("font-size", fontSize)
  .attr("font-family", '"Liberation Sans", Arial, sans-serif')
  .attr("fill", "#000");

// axis titles
svg.append("text")
  .attr("x", (margin.left + width - margin.right) / 2)
  .attr("y", 861)
  .attr("text-anchor", "middle")
  .attr("font-size", fontSize)
  .text("Average log-expression");

svg.append("text")
  .attr("transform", `translate(30,${(margin.top + height - margin.bottom) / 2}) rotate(-90)`)
  .attr("text-anchor", "middle")
  .attr("font-size", fontSize)
  .text("sqrt(sigma)");

// points: normal first, outliers on top
svg.append("g")
  .selectAll("rect")
  .data(allNormal)
  .enter()
  .append("rect")
    .attr("x", d => xScale(d[0]) - ptSize / 2)
    .attr("y", d => yScale(d[1]) - ptSize / 2)
    .attr("width", ptSize)
    .attr("height", ptSize)
    .attr("fill", legendColors[0]);

svg.append("g")
  .selectAll("rect")
  .data(outlierPts)
  .enter()
  .append("rect")
    .attr("x", d => xScale(d[0]) - ptSize / 2)
    .attr("y", d => yScale(d[1]) - ptSize / 2)
    .attr("width", ptSize)
    .attr("height", ptSize)
    .attr("fill", legendColors[1]);

// trend line
svg.append("path")
  .datum(trendLine)
  .attr("fill", "none")
  .attr("stroke", "#0000ff")
  .attr("stroke-width", 1.5)
  .attr("d", d3.line().x(d => xScale(d[0])).y(d => yScale(d[1])));

// plot box
svg.append("rect")
  .attr("x", margin.left)
  .attr("y", margin.top)
  .attr("width", width - margin.left - margin.right)
  .attr("height", height - margin.top - margin.bottom)
  .attr("fill", "none")
  .attr("stroke", "#000")
  .attr("stroke-width", 1.3);

// legend, top right corner
const legendW = 138;
const legendH = 90;
const legend = svg.append("g")
  .attr("transform", `translate(${width - margin.right - legendW},${margin.top})`);

legend.append("rect")
  .attr("width", legendW)
  .attr("height", legendH)
  .attr("fill", "#fff")
  .attr("stroke", "#000")
  .attr("stroke-width", 1.3);

legend.selectAll("circle")
  .data(legendLabels)
  .enter()
  .append("circle")
    .attr("cx", 23)
    .attr("cy", (d, i) => 30 + i * 31)
    .attr("r", 4.5)
    .attr("fill", (d, i) => legendColors[i]);

legend.selectAll("text")
  .data(legendLabels)
  .enter()
  .append("text")
    .attr("x", 46)
    .attr("y", (d, i) => 39.5 + i * 31)
    .attr("font-size", fontSize)
    .text(d => d);

</script>
</body>
</html>
